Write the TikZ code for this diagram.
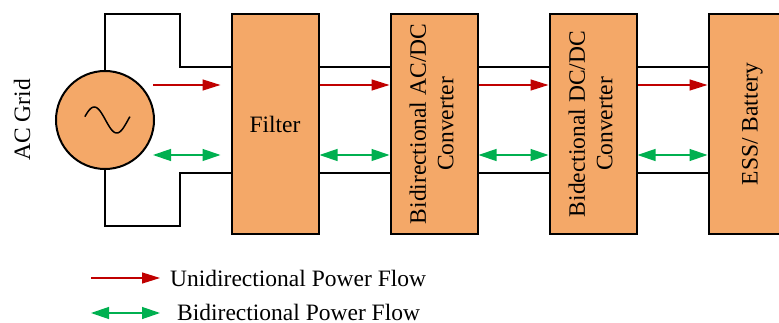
\documentclass[tikz,border=0pt]{standalone}
\usepackage{fontspec}
\setmainfont{Liberation Serif}
\usetikzlibrary{arrows.meta,positioning}
\definecolor{boxorange}{RGB}{244,168,104}
\definecolor{flowred}{RGB}{192,0,0}
\definecolor{flowgreen}{RGB}{0,176,80}
\newcommand{\uptext}[1]{\rotatebox{90}{\begin{tabular}{@{}c@{}}#1\end{tabular}}}

\begin{document}
\begin{tikzpicture}[
  x=1pt, y=-1pt,
  font=\fontsize{23.5}{27.5}\selectfont,
  box/.style={draw, line width=2pt, fill=boxorange, minimum width=87pt, minimum height=220pt, inner sep=0pt},
  wire/.style={line width=2pt},
  uni/.style={flowred, line width=1.3pt, -{Triangle[length=18pt,width=11pt]}},
  bi/.style={flowgreen, line width=1.3pt, {Triangle[length=18pt,width=12pt]}-{Triangle[length=18pt,width=12pt]}}
]
\useasboundingbox (0,0) rectangle (779,323);

% source and chain
\node[circle, draw, line width=2pt, fill=boxorange, minimum size=98pt, inner sep=0pt] (grid) at (105,120) {};
\node[rotate=90] (acgrid) at (22,120) {AC Grid};
\node[box] (filter) at (275,124) {Filter};
\node[box, right=70pt of filter] (acdc) {\uptext{Bidirectional AC/DC\\Converter}};
\node[box, right=70pt of acdc] (dcdc) {\uptext{Bidectional DC/DC\\Converter}};
\node[box, right=70pt of dcdc] (ess) {\uptext{ESS/ Battery}};

\draw[line width=1.5pt, shift={(grid.center)}] plot[domain=15:375, samples=50, smooth] ({-22+\x/8}, {-13*sin(\x)});

% grid loop
\coordinate (tl) at (180,14);
\coordinate (bl) at (180,226);
\draw[wire] (grid.north) |- (tl) |- ([yshift=57pt]filter.west);
\draw[wire] (grid.south) |- (bl) |- ([yshift=-49pt]filter.west);

\coordinate (r0) at (153,85);
\coordinate (g0) at (153,155);
\draw[uni] (r0) -- ([xshift=-10pt,yshift=39pt]filter.west);
\draw[bi] (g0) -- ([xshift=-10pt,yshift=-31pt]filter.west);

\foreach \a/\b in {filter/acdc, acdc/dcdc, dcdc/ess} {
  \draw[wire] ([yshift=57pt]\a.east) -- ([yshift=57pt]\b.west);
  \draw[wire] ([yshift=-49pt]\a.east) -- ([yshift=-49pt]\b.west);
  \draw[uni] ([yshift=39pt]\a.east) -- ([yshift=39pt]\b.west);
  \draw[bi] ([yshift=-31pt]\a.east) -- ([yshift=-31pt]\b.west);
}

% legend
\node[anchor=base west, inner sep=0pt] (leguni) at (170,286) {Unidirectional Power Flow};
\node[anchor=base west, inner sep=0pt] (legbi) at (177,320) {Bidirectional Power Flow};
\coordinate (u0) at (91,278);
\coordinate (b0) at (91,313);
\draw[uni] (u0) -- ([xshift=-10pt]u0 -| leguni.west);
\draw[bi] (b0) -- ([xshift=-17pt]b0 -| legbi.west);
\end{tikzpicture}
\end{document}
